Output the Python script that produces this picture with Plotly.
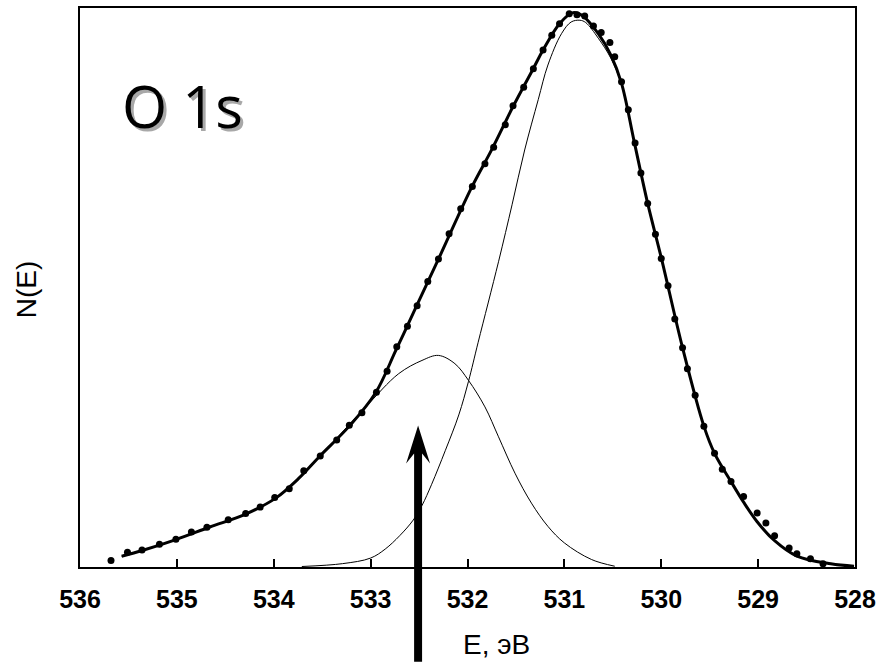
import plotly.graph_objects as go

# measured points (binding energy, eV ; intensity, arb. units)
dots_e = [535.68, 535.51, 535.36, 535.18, 535.01, 534.85, 534.69, 534.47, 534.29, 534.14,
          533.99, 533.84, 533.69, 533.52, 533.35, 533.22, 533.09, 532.94, 532.83, 532.73,
          532.62, 532.52, 532.41, 532.30, 532.19, 532.07, 531.95, 531.82, 531.73, 531.61,
          531.53, 531.42, 531.32, 531.22, 531.13, 531.05, 530.95, 530.87, 530.79, 530.70,
          530.62, 530.53, 530.48, 530.41, 530.34, 530.27, 530.21, 530.14, 530.06, 530.00,
          529.93, 529.86, 529.78, 529.73, 529.65, 529.56, 529.45, 529.37, 529.28, 529.15,
          529.01, 528.92, 528.83, 528.68, 528.60, 528.46, 528.33]
dots_n = [1.16, 2.64, 3.06, 4.06, 4.95, 6.27, 7.09, 8.46, 9.58, 10.72,
          12.43, 13.98, 17.24, 19.86, 22.71, 25.38, 27.60, 31.26, 35.00, 39.39,
          43.06, 46.75, 51.08, 55.12, 59.63, 64.08, 68.07, 72.16, 75.07, 79.11,
          82.51, 85.81, 89.14, 92.47, 95.14, 97.20, 98.98, 98.81, 98.58, 96.79,
          95.60, 93.82, 91.27, 86.82, 81.78, 75.83, 70.49, 65.04, 59.52, 55.21,
          50.31, 44.38, 39.22, 35.48, 30.72, 25.20, 20.34, 17.49, 15.28, 12.61,
          9.65, 7.87, 5.61, 3.42, 2.35, 1.46, 0.57]

# total fit envelope
fit_e = [535.57, 535.35, 535.01, 534.66, 534.29, 533.98, 533.74, 533.53, 533.22, 532.95,
         532.74, 532.54, 532.30, 531.96, 531.75, 531.53, 531.32, 531.22, 531.05, 530.91,
         530.81, 530.65, 530.52, 530.41, 530.28, 530.14, 530.00, 529.78, 529.56, 529.45,
         529.28, 529.15, 529.01, 528.83, 528.60, 528.25, 528.01]
fit_n = [1.92, 2.99, 4.90, 7.16, 9.47, 12.32, 15.89, 19.73, 25.20, 31.13,
         38.74, 46.16, 55.07, 67.82, 74.66, 82.37, 89.19, 92.47, 97.20, 99.17,
         98.58, 95.42, 91.58, 86.52, 76.14, 65.04, 55.35, 39.22, 25.20, 20.34,
         15.28, 11.60, 8.10, 4.70, 1.95, 0.57, 0.14]

# component 1 (~532.3 eV)
c1_e = [535.57, 535.35, 535.01, 534.66, 534.29, 533.98, 533.74, 533.53, 533.40, 533.05,
        532.71, 532.47, 532.30, 532.13, 531.99, 531.82, 531.68, 531.51, 531.34, 531.17,
        531.00, 530.72, 530.48]
c1_n = [1.92, 2.99, 4.90, 7.16, 9.47, 12.32, 15.89, 19.73, 22.12, 28.64,
        34.59, 36.95, 37.85, 36.37, 33.39, 28.64, 23.29, 16.78, 11.43, 7.27,
        4.31, 1.34, 0.14]

# component 2 (~530.85 eV)
c2_e = [533.71, 533.29, 533.00, 532.85, 532.70, 532.56, 532.47, 532.37, 532.23, 532.09,
        531.99, 531.89, 531.68, 531.54, 531.41, 531.27, 531.17, 531.03, 530.93, 530.84,
        530.78, 530.65, 530.52, 530.41, 530.28, 530.14, 530.00, 529.78, 529.56, 529.45,
        529.28, 529.15, 529.01, 528.83, 528.60, 528.25, 528.01]
c2_n = [0.09, 0.60, 1.60, 3.20, 5.60, 8.40, 11.00, 14.80, 20.80, 27.20,
        33.20, 40.20, 54.60, 64.80, 74.60, 83.60, 89.80, 95.40, 97.50, 97.81,
        97.40, 94.60, 91.00, 86.30, 76.14, 65.04, 55.35, 39.22, 25.20, 20.34,
        15.28, 11.60, 8.10, 4.70, 1.95, 0.57, 0.14]

x_ticks = [536, 535, 534, 533, 532, 531, 530, 529, 528]
x_range = [536, 528]
arrow_x = 532.51
arrow_tip = 25.3

font_main = "Arial, Liberation Sans, sans-serif"

fig = go.Figure()
fig.add_trace(go.Scatter(x=c1_e, y=c1_n, mode="lines", line_shape="spline",
                         line=dict(color="black", width=1), showlegend=False))
fig.add_trace(go.Scatter(x=c2_e, y=c2_n, mode="lines", line_shape="spline",
                         line=dict(color="black", width=1), showlegend=False))
fig.add_trace(go.Scatter(x=fit_e, y=fit_n, mode="lines", line_shape="spline",
                         line=dict(color="black", width=3), showlegend=False))
fig.add_trace(go.Scatter(x=dots_e, y=dots_n, mode="markers",
                         marker=dict(color="black", size=7), showlegend=False,
                         cliponaxis=False))

W, H = 882, 662
ml, mr, mt, mb = 80, 24, 6, 95
pw, ph = W - ml - mr, H - mt - mb

fig.update_layout(
    width=W, height=H,
    margin=dict(l=ml, r=mr, t=mt, b=mb),
    paper_bgcolor="white", plot_bgcolor="white",
    xaxis=dict(range=x_range, tickvals=x_ticks, ticks="inside", ticklen=8,
               tickwidth=2, tickcolor="black", showline=True, linecolor="black",
               linewidth=2, mirror=True, showgrid=False, zeroline=False,
               tickfont=dict(family=font_main, size=25, color="black", weight="bold"),
               ticklabelstandoff=9),
    yaxis=dict(range=[0, 100], showticklabels=False, ticks="", showline=True,
               linecolor="black", linewidth=2, mirror=True, showgrid=False,
               zeroline=False),
)

# arrow (paper coords derived from data value)
px = (arrow_x - x_range[0]) / (x_range[1] - x_range[0])
tip = arrow_tip / 100.0
hw = 12 / pw
sw = 4 / pw
hl = 38 / ph
notch = 28 / ph
bottom = -mb / ph
path = (f"M {px - sw},{bottom} L {px - sw},{tip - notch} L {px - hw},{tip - hl} "
        f"L {px},{tip} L {px + hw},{tip - hl} L {px + sw},{tip - notch} "
        f"L {px + sw},{bottom} Z")
fig.add_shape(type="path", path=path, xref="paper", yref="paper",
              fillcolor="black", line=dict(color="black", width=0), layer="above")

# title "O 1s" with shadow
for dx, dy, col in [(3, -3, "#a8a8a8"), (0, 0, "black")]:
    fig.add_annotation(x=(183 - ml) / pw, y=(H - mb - 104) / ph, xref="paper", yref="paper",
                       text="O 1s", showarrow=False, xanchor="center", yanchor="middle",
                       xshift=dx, yshift=dy,
                       font=dict(family="Open Sans, sans-serif", size=58, color=col))

fig.add_annotation(x=(498 - ml) / pw, y=(H - mb - 645) / ph, xref="paper", yref="paper",
                   text="E, эВ", showarrow=False, xanchor="center", yanchor="middle",
                   font=dict(family=font_main, size=28, color="black"))
fig.add_annotation(x=(27 - ml) / pw, y=(H - mb - 288) / ph, xref="paper", yref="paper",
                   text="N(E)", showarrow=False, xanchor="center", yanchor="middle",
                   textangle=-90,
                   font=dict(family=font_main, size=28, color="black"))

fig.write_html("out.html", config={"displayModeBar": False},
               post_script="document.body.style.margin='0';document.body.style.overflow='hidden';")
